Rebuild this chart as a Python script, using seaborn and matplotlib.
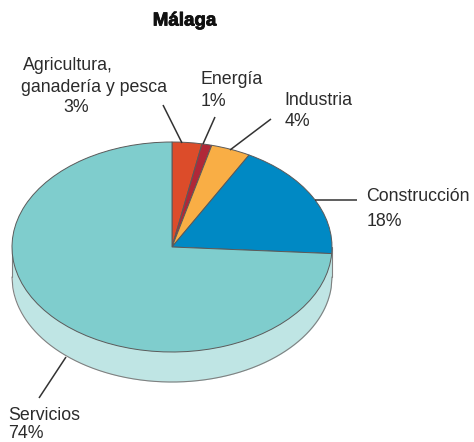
import numpy as np
import matplotlib
matplotlib.use('Agg')
import matplotlib.pyplot as plt
import matplotlib.patheffects as pe
import seaborn as sns

# Datos del gráfico
sectores = ['Agricultura, ganadería y pesca', 'Energía', 'Industria', 'Construcción', 'Servicios']
valores = [3, 1, 4, 18, 74]
colores = ['#dc4c2a', '#b02838', '#f9ae45', '#0089c4', '#7fcdcd']
color_lateral = '#bfe5e4'

sns.set_theme(style='white')
plt.rcParams['font.family'] = ['Liberation Sans', 'DejaVu Sans']

W, H = 474, 442
CX, CY, RX, RY, PROF = 172, 247, 160, 105, 30

fig = plt.figure(figsize=(W / 100, H / 100), dpi=100)
ax = fig.add_axes([0, 0, 1, 1])


def px(x, y):
    # de pixeles de la imagen a datos del pie
    return (x - CX) / RX, (CY - y) / RY


# lateral del cilindro
prof = PROF / RY
xs = np.linspace(-1, 1, 400)
ax.fill_between(xs, -np.sqrt(1 - xs ** 2) - prof, 0, color=color_lateral, lw=0, zorder=1)
ax.plot(xs, -np.sqrt(1 - xs ** 2) - prof, color='#808080', lw=0.8, zorder=2)
ax.plot([-1, -1], [0, -prof], color='#808080', lw=0.8, zorder=2)
ax.plot([1, 1], [0, -prof], color='#808080', lw=0.8, zorder=2)

# tapa superior
ax.pie(valores, colors=colores, startangle=90, counterclock=False, radius=1,
       wedgeprops={'edgecolor': '#5a5a5a', 'linewidth': 0.7, 'zorder': 3})

ax.set_aspect('auto')
x0, y0 = px(0, H)
x1, y1 = px(W, 0)
ax.set_xlim(x0, x1)
ax.set_ylim(y0, y1)
ax.axis('off')

# líneas guía
guias = [((182, 143), (163, 105)), ((203, 144), (215, 117)), ((230, 150), (271, 119)),
         ((315, 200), (357, 200)), ((66, 357), (39, 398))]
for a, b in guias:
    pa, pb = px(*a), px(*b)
    ax.plot([pa[0], pb[0]], [pa[1], pb[1]], color='#333333', lw=1.1, zorder=4, solid_capstyle='butt')

# etiquetas, una línea cada vez
lineas = [
    [('Agricultura,', 23, 65.5), ('ganadería y pesca', 21, 87.5), (f'{valores[0]}%', 63, 108)],
    [(sectores[1], 201, 80), (f'{valores[1]}%', 201, 101)],
    [(sectores[2], 284, 100.5), (f'{valores[2]}%', 285, 121.5)],
    [(sectores[3], 366.5, 196.5), (f'{valores[3]}%', 367, 221.5)],
    [(sectores[4], 8, 415.5), (f'{valores[4]}%', 8, 433.5)],
]
for grupo in lineas:
    for txt, x, y in grupo:
        xx, yy = px(x, y)
        ax.text(xx, yy, txt, ha='left', va='center', fontsize=12.8, color='#2b2b2b', zorder=5)

xx, yy = px(184.5, 21)
ax.text(xx, yy, 'Málaga', ha='center', va='center', fontsize=13.5, fontweight='bold', color='#111111',
        path_effects=[pe.withStroke(linewidth=0.6, foreground='#111111')])

fig.savefig('out.png', dpi=100)
